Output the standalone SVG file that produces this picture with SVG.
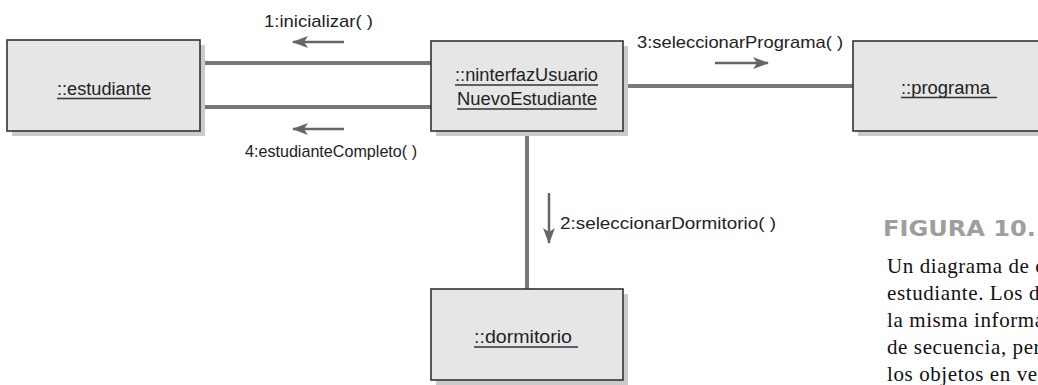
<svg xmlns="http://www.w3.org/2000/svg" width="1038" height="385" viewBox="0 0 1038 385">
<defs>
<style>
.shadow{fill:#cbcbcb}
.box{fill:#e6e6e6;stroke:#333;stroke-width:1.6}
.lbl{font-family:"Liberation Sans Narrow","Liberation Sans",Arial,sans-serif;font-size:18px;fill:#222}
.msg{font-family:"Liberation Sans Narrow","Liberation Sans",Arial,sans-serif;font-size:17px;fill:#222}
.ul{stroke:#333;stroke-width:1.3}
.conn{stroke:#787878;stroke-width:4;fill:none}
.arr{stroke:#666;stroke-width:2.5;fill:none;marker-end:url(#ah)}
.fig{font-family:"DejaVu Sans","Open Sans",sans-serif;font-weight:bold;font-size:21px;fill:#9e9e9e}
.cap{font-family:"Liberation Serif","Times New Roman",serif;font-size:21px;letter-spacing:0.6px;fill:#111}
</style>
<marker id="ah" viewBox="0 0 16 12" refX="15" refY="6" markerWidth="16" markerHeight="12" markerUnits="userSpaceOnUse" orient="auto">
<path d="M0,0 L16,6 L0,12 L4,6 Z" fill="#666"/>
</marker>
</defs>
<rect width="1038" height="385" fill="#fff"/>
<g id="connectors">
<line class="conn" x1="200" y1="63" x2="431" y2="63"/>
<line class="conn" x1="200" y1="107" x2="431" y2="107"/>
<line class="conn" x1="623" y1="86" x2="853" y2="86"/>
<line class="conn" x1="527" y1="131" x2="527" y2="289"/>
<line class="arr" x1="344" y1="42" x2="293" y2="42"/>
<line class="arr" x1="344" y1="129" x2="293" y2="129"/>
<line class="arr" x1="715" y1="63" x2="768" y2="63"/>
<line class="arr" x1="549" y1="193" x2="549" y2="243"/>
<text class="msg" x="264" y="27" textLength="109" lengthAdjust="spacingAndGlyphs">1:inicializar( )</text>
<text class="msg" x="245" y="157" textLength="172" lengthAdjust="spacingAndGlyphs">4:estudianteCompleto( )</text>
<text class="msg" x="637" y="48" textLength="206" lengthAdjust="spacingAndGlyphs">3:seleccionarPrograma( )</text>
<text class="msg" x="560" y="229" textLength="216" lengthAdjust="spacingAndGlyphs">2:seleccionarDormitorio( )</text>
</g>
<g id="estudiante">
<rect class="shadow" x="12" y="45" width="193" height="91"/>
<rect class="box" x="7" y="40" width="193" height="91"/>
<text class="lbl" x="57" y="95" textLength="94" lengthAdjust="spacingAndGlyphs">::estudiante</text>
<line class="ul" x1="57" y1="98.5" x2="151" y2="98.5"/>
</g>
<g id="interfaz">
<rect class="shadow" x="436" y="46" width="192" height="90"/>
<rect class="box" x="431" y="41" width="192" height="90"/>
<text class="lbl" x="455" y="81" textLength="143" lengthAdjust="spacingAndGlyphs">::ninterfazUsuario</text>
<line class="ul" x1="455" y1="85" x2="598" y2="85"/>
<text class="lbl" x="457" y="105" textLength="140" lengthAdjust="spacingAndGlyphs">NuevoEstudiante</text>
<line class="ul" x1="457" y1="109" x2="597" y2="109"/>
</g>
<g id="programa">
<rect class="shadow" x="858" y="46" width="200" height="90"/>
<rect class="box" x="853" y="41" width="200" height="90"/>
<text class="lbl" x="901" y="94" textLength="89" lengthAdjust="spacingAndGlyphs">::programa</text>
<line class="ul" x1="901" y1="97.5" x2="997" y2="97.5"/>
</g>
<g id="dormitorio">
<rect class="shadow" x="436" y="294" width="192" height="91"/>
<rect class="box" x="431" y="289" width="192" height="91"/>
<text class="lbl" x="474" y="343" textLength="98" lengthAdjust="spacingAndGlyphs">::dormitorio</text>
<line class="ul" x1="474" y1="347" x2="578" y2="347"/>
</g>
<g id="caption">
<text class="fig" x="883" y="236" textLength="153" lengthAdjust="spacingAndGlyphs">FIGURA 10.</text>
<text class="cap" x="887" y="273">Un diagrama de c</text>
<text class="cap" x="887" y="300">estudiante. Los d</text>
<text class="cap" x="887" y="327">la misma informa</text>
<text class="cap" x="887" y="354">de secuencia, per</text>
<text class="cap" x="887" y="381">los objetos en ve</text>
</g>
</svg>
